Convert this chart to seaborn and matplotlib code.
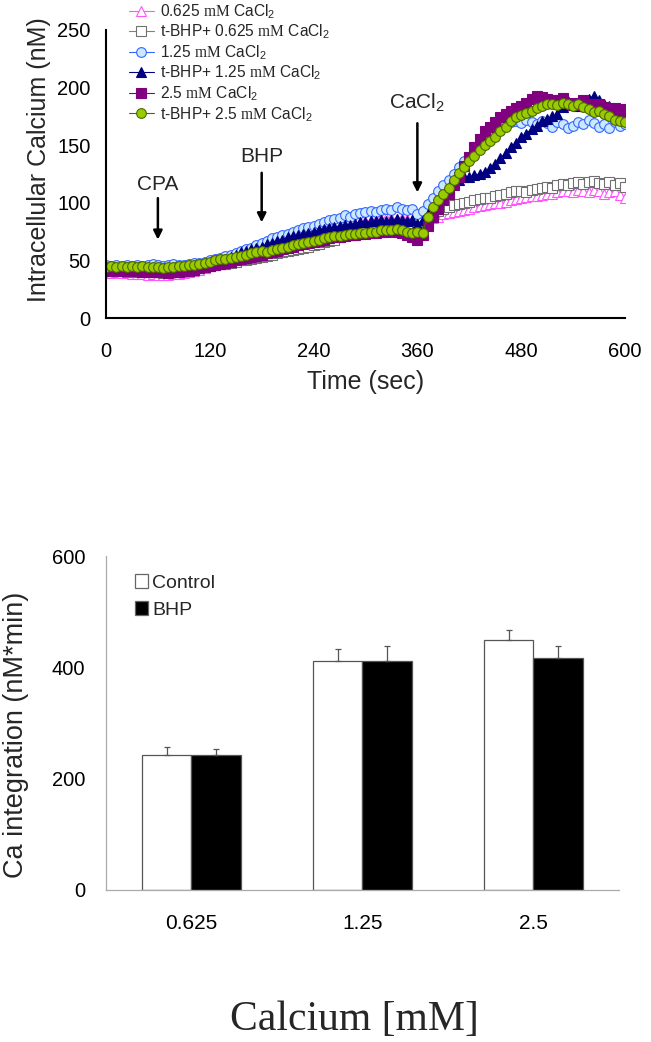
import numpy as np
import pandas as pd
import matplotlib
matplotlib.use("Agg")
import matplotlib.pyplot as plt
import seaborn as sns

# ---------------- data ----------------
time_sec = np.arange(0, 601, 6)

ca_0625 = [40,39,40,39,39,38,38,38,37,38,
           37,37,37,38,38,39,40,41,42,43,
           45,46,47,49,50,52,53,55,56,58,
           59,61,62,64,65,67,68,70,71,72,
           73,75,76,77,78,79,80,81,82,83,
           84,85,85,86,87,87,86,87,86,85,
           84,83,85,87,88,90,91,92,93,94,
           95,96,97,98,99,100,100,101,102,103,
           104,105,106,106,107,108,108,109,110,110,
           109,111,110,109,111,110,108,109,110,107,
           104]
bhp_0625 = [42,41,42,41,40,41,40,41,40,40,
            40,39,40,40,41,41,42,42,43,44,
            45,46,47,47,48,49,50,50,51,52,
            53,54,55,56,57,58,59,60,61,62,
            63,64,66,67,68,70,71,72,73,74,
            75,76,77,78,79,80,80,81,82,82,
            82,86,89,91,93,95,96,98,99,100,
            101,102,103,104,104,106,107,108,109,110,
            110,109,111,112,113,114,113,115,116,115,
            117,118,116,118,119,117,116,118,115,117,
            114]
ca_125 = [46,45,46,45,46,45,46,45,46,47,
          46,45,46,47,46,46,47,48,48,49,
          50,51,52,54,55,56,58,60,61,63,
          65,67,69,70,72,73,75,76,78,79,
          80,82,83,85,86,87,89,88,90,91,
          92,93,92,94,95,94,96,95,94,95,
          90,93,99,104,110,115,120,125,131,136,
          140,145,150,155,160,164,166,168,170,171,
          169,172,170,168,171,169,166,170,168,165,
          167,170,168,172,169,166,168,165,170,167,
          168]
bhp_125 = [43,42,43,42,43,42,42,41,42,42,
           41,41,40,41,41,42,43,44,45,46,
           47,48,50,51,53,55,57,58,60,61,
           62,64,65,67,68,70,71,72,73,74,
           75,76,77,78,79,80,81,81,82,83,
           83,84,84,85,84,85,86,85,84,85,
           82,85,90,96,102,108,113,117,120,122,
           122,124,125,127,130,134,139,143,148,152,
           157,160,164,167,171,173,175,177,183,188,
           186,184,187,190,193,189,186,184,178,175,
           172]
ca_25 = [42,41,42,41,42,41,41,40,41,40,
         40,40,39,40,40,41,41,42,43,44,
         45,46,47,48,49,50,51,52,53,54,
         55,56,57,58,60,61,62,63,64,65,
         66,67,68,69,70,70,71,72,72,73,
         73,74,74,75,75,76,75,74,72,70,
         68,72,80,88,95,102,108,115,122,132,
         140,148,155,162,166,170,174,177,180,182,
         184,187,190,193,192,190,188,189,191,187,
         185,187,189,186,184,186,183,180,182,178,
         181]
bhp_25 = [44,45,44,45,44,45,44,45,44,44,
          44,43,44,44,45,45,46,46,47,48,
          49,50,51,51,52,53,54,55,56,57,
          58,57,59,60,61,62,63,64,65,66,
          67,68,69,70,71,71,72,73,73,74,
          74,75,75,76,76,76,77,76,75,74,
          75,74,88,96,102,108,113,120,126,131,
          136,141,146,150,154,157,162,166,171,174,
          176,178,180,182,184,186,186,185,187,186,
          184,186,183,181,179,180,177,175,172,171,
          170]

series_labels = [r"0.625 $\mathrm{mM}$ CaCl$_\mathsf{2}$",
                 r"t-BHP+ 0.625 $\mathrm{mM}$ CaCl$_\mathsf{2}$",
                 r"1.25 $\mathrm{mM}$ CaCl$_\mathsf{2}$",
                 r"t-BHP+ 1.25 $\mathrm{mM}$ CaCl$_\mathsf{2}$",
                 r"2.5 $\mathrm{mM}$ CaCl$_\mathsf{2}$",
                 r"t-BHP+ 2.5 $\mathrm{mM}$ CaCl$_\mathsf{2}$"]

conc_labels = ["0.625", "1.25", "2.5"]
control_vals = [243, 411, 450]
control_err = [14, 22, 17]
bhp_vals = [243, 411, 417]
bhp_err = [10, 27, 22]

# ---------------- style ----------------
sns.set_style("white")
plt.rcParams["font.family"] = ["Liberation Sans", "DejaVu Sans"]
plt.rcParams["mathtext.fontset"] = "custom"
plt.rcParams["mathtext.rm"] = "Liberation Serif"
plt.rcParams["mathtext.sf"] = "Liberation Sans"
plt.rcParams["mathtext.it"] = "Liberation Sans:italic"

fig = plt.figure(figsize=(6.51, 10.42), dpi=100)

# ---------------- top: time course ----------------
ax1 = fig.add_axes([0.1628, 0.6948, 0.7972, 0.2765])

styles = [
    dict(marker="^", color="#FF55FF", markerfacecolor="white", markeredgecolor="#FF55FF", markersize=7.2),
    dict(marker="s", color="#808080", markerfacecolor="white", markeredgecolor="#707070", markersize=6.8),
    dict(marker="o", color="#3366FF", markerfacecolor="#CCE8FF", markeredgecolor="#3366FF", markersize=7.0),
    dict(marker="^", color="#000080", markerfacecolor="#000080", markeredgecolor="#000080", markersize=7.2),
    dict(marker="s", color="#800080", markerfacecolor="#800080", markeredgecolor="#800080", markersize=6.6),
    dict(marker="o", color="#4D6600", markerfacecolor="#99CC00", markeredgecolor="#4D6600", markersize=7.0),
]
all_series = [ca_0625, bhp_0625, ca_125, bhp_125, ca_25, bhp_25]
for vals, lab, st in zip(all_series, series_labels, styles):
    sns.lineplot(x=time_sec, y=vals, ax=ax1, label=lab, linewidth=0.8,
                 markeredgewidth=0.8, **st)

ax1.set_xlim(0, 600)
ax1.set_ylim(0, 250)
ax1.set_xticks([0, 120, 240, 360, 480, 600])
ax1.set_yticks([0, 50, 100, 150, 200, 250])
for s in ["top", "right"]:
    ax1.spines[s].set_visible(False)
for s in ["left", "bottom"]:
    ax1.spines[s].set_color("black")
    ax1.spines[s].set_linewidth(1.5)
ax1.tick_params(axis="x", direction="out", length=6, width=1.5, pad=11, labelsize=14.5, colors="black")
ax1.tick_params(axis="y", direction="out", length=5, width=1.5, pad=6, labelsize=14.5, colors="black")
ax1.set_xlabel("Time (sec)", fontsize=18, labelpad=7)
ax1.set_ylabel("Intracellular Calcium (nM)", fontsize=18)
ax1.yaxis.set_label_coords(-0.105, 0.55)

arrow_kw = dict(arrowstyle="-|>", color="black", lw=1.8, mutation_scale=13, shrinkA=0, shrinkB=0)
ax1.annotate("", xy=(60, 68), xytext=(60, 104), arrowprops=arrow_kw)
ax1.text(60, 116, "CPA", ha="center", va="center", fontsize=15)
ax1.annotate("", xy=(180, 83), xytext=(180, 126), arrowprops=arrow_kw)
ax1.text(180, 140, "BHP", ha="center", va="center", fontsize=15)
ax1.annotate("", xy=(360, 109), xytext=(360, 169), arrowprops=arrow_kw)
ax1.text(360, 187, r"CaCl$_\mathsf{2}$", ha="center", va="center", fontsize=15)

h, l = ax1.get_legend_handles_labels()
ax1.legend(h, l, loc="upper left", bbox_to_anchor=(0.198, 0.998), bbox_transform=fig.transFigure,
           frameon=False, fontsize=11.2, handlelength=1.6, handletextpad=0.4,
           labelspacing=0.12, borderpad=0, borderaxespad=0)

# ---------------- bottom: bar chart ----------------
ax2 = fig.add_axes([0.1628, 0.1459, 0.788, 0.3205])
df = pd.DataFrame({
    "conc": conc_labels * 2,
    "group": ["Control"] * 3 + ["BHP"] * 3,
    "value": control_vals + bhp_vals,
})
sns.barplot(data=df, x="conc", y="value", hue="group", order=conc_labels,
            hue_order=["Control", "BHP"], palette={"Control": "white", "BHP": "black"},
            edgecolor="#555555", linewidth=0.9, width=0.575, gap=0, errorbar=None, ax=ax2)

for cont, errs in zip(ax2.containers, [control_err, bhp_err]):
    for bar, e in zip(cont, errs):
        xc = bar.get_x() + bar.get_width() / 2
        ax2.errorbar(xc, bar.get_height(), yerr=[[0], [e]], fmt="none",
                     ecolor="#555555", elinewidth=0.9, capsize=2.2, capthick=0.9, zorder=1)

ax2.set_xlim(-0.5, 2.5)
ax2.set_ylim(0, 600)
ax2.set_yticks([0, 200, 400, 600])
ax2.set_xticks([0, 1, 2])
ax2.set_xticklabels(conc_labels)
ax2.set_xticks([-0.5, 0.5, 1.5, 2.5], minor=True)
for s in ["top", "right"]:
    ax2.spines[s].set_visible(False)
for s in ["left", "bottom"]:
    ax2.spines[s].set_color("#AAAAAA")
    ax2.spines[s].set_linewidth(0.9)
ax2.tick_params(axis="x", which="major", length=0, pad=17, labelsize=15, colors="black")
ax2.tick_params(axis="x", which="minor", direction="out", length=7, width=0.9, color="#AAAAAA")
ax2.tick_params(axis="y", direction="out", length=6, width=0.9, color="#AAAAAA", pad=9,
                labelsize=14.5, labelcolor="black")
ax2.set_xlabel("")
ax2.set_ylabel("Ca integration (nM*min)", fontsize=19.5)
ax2.yaxis.set_label_coords(-0.15, 0.465)

hb, lb = ax2.get_legend_handles_labels()
for hh in hb:
    hh.set_edgecolor("#666666")
ax2.legend(hb, lb, loc="upper left", bbox_to_anchor=(0.208, 0.449), bbox_transform=fig.transFigure,
           frameon=False, fontsize=14, handlelength=0.65, handleheight=0.75, handletextpad=0.2,
           labelspacing=0.45, borderpad=0, borderaxespad=0)

fig.text(0.545, 0.0115, "Calcium [mM]", ha="center", va="baseline", fontsize=30,
         family=["Liberation Serif", "DejaVu Serif"])

fig.savefig("out.png", dpi=100)
